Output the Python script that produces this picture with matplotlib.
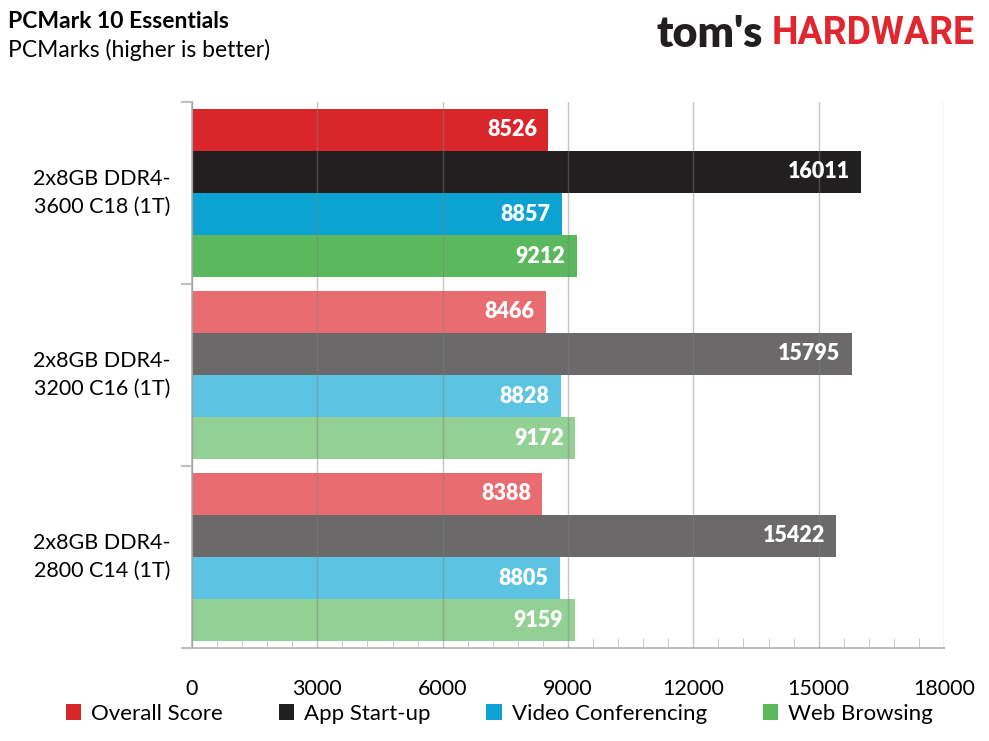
import numpy as np
import matplotlib
matplotlib.use("Agg")
import matplotlib.pyplot as plt
from matplotlib.patches import Patch
from matplotlib.ticker import MultipleLocator

plt.rcParams['font.family'] = ['Lato', 'DejaVu Sans']

# data
configs = ['2x8GB DDR4-\n3600 C18 (1T)', '2x8GB DDR4-\n3200 C16 (1T)', '2x8GB DDR4-\n2800 C14 (1T)']
series = ['Overall Score', 'App Start-up', 'Video Conferencing', 'Web Browsing']
overall = [8526, 8466, 8388]
app_startup = [16011, 15795, 15422]
video_conf = [8857, 8828, 8805]
web_browsing = [9212, 9172, 9159]
xticks = [0, 3000, 6000, 9000, 12000, 15000, 18000]

values = [overall, app_startup, video_conf, web_browsing]
dark = ['#D9262B', '#211F1F', '#0CA3D2', '#5BB85D']
light = ['#E86C70', '#6B6969', '#5DC3E2', '#93D094']

W, H = 989, 741
fig = plt.figure(figsize=(W / 100, H / 100), dpi=100)
ax = fig.add_axes([192 / W, 1 - 648 / H, (944 - 192) / W, (648 - 102) / H])

bh = 0.2308
for i, vals in enumerate(values):
    for g, v in enumerate(vals):
        col = dark[i] if g == 0 else light[i]
        yy = g - 1.5 * bh + i * bh
        ax.barh(yy, v, height=bh, color=col, zorder=2, linewidth=0)
        ax.text(v - 270, yy, f'{v}', color='white', fontsize=15.5, fontweight='heavy',
                ha='right', va='center', zorder=4)

ax.set_xlim(0, 18000)
ax.set_ylim(2.5, -0.5)
ax.set_xticks(xticks)
ax.set_xticklabels([str(t) for t in xticks], fontsize=15.5)
ax.xaxis.set_minor_locator(MultipleLocator(600))
ax.grid(axis='x', which='major', color='#808080', alpha=0.45, linewidth=1, zorder=3)
ax.set_axisbelow(False)
ax.tick_params(axis='x', which='major', length=0, pad=22)
ax.tick_params(axis='x', which='minor', direction='in', length=7, color='#C0C0C0')

ax.set_yticks([-0.5, 0.5, 1.5, 2.5])
ax.set_yticklabels([])
ax.tick_params(axis='y', length=8, color='#BFBFBF', width=1.5)
for g, lab in enumerate(configs):
    ax.text(-0.1197, g, lab, transform=ax.get_yaxis_transform(), ha='center', va='center',
            fontsize=15.5, linespacing=1.45)

for s in ['top', 'right']:
    ax.spines[s].set_visible(False)
for s in ['left', 'bottom']:
    ax.spines[s].set_color('#BFBFBF')
    ax.spines[s].set_linewidth(1.5)
ax.spines['bottom'].set_bounds(-190, 18000)

fig.text(8 / W, 1 - 21 / H, 'PCMark 10 Essentials', fontsize=16.5, fontweight='bold', va='center')
fig.text(8 / W, 1 - 50 / H, 'PCMarks (higher is better)', fontsize=16.5, va='center')

# logo
fig.text(763 / W, 1 - 34 / H, "tom's", fontsize=31, fontweight='heavy', color='#231F20',
         ha='right', va='center')
fig.text(975 / W, 1 - 34 / H, 'HARDWARE', fontsize=27, fontweight='bold', color='#E0262E',
         ha='right', va='center', family=['Roboto', 'DejaVu Sans'])

handles = [Patch(facecolor=c, edgecolor='none') for c in dark]
fig.legend(handles, series, loc='center', bbox_to_anchor=(0.505, 1 - 714 / H), ncol=4,
           frameon=False, fontsize=16, handlelength=0.7, handleheight=0.7,
           handletextpad=0.45, columnspacing=2.5)

fig.savefig('out.png', dpi=100)
